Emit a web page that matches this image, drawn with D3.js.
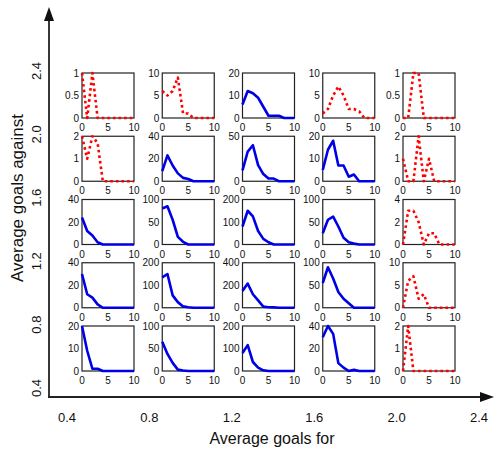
<!DOCTYPE html>
<html>
<head>
<meta charset="utf-8">
<script src="https://cdn.jsdelivr.net/npm/d3@7"></script>
<style>
  body { margin: 0; background: #fff; }
  svg { display: block; }
  text { font-family: "Liberation Sans", Arial, sans-serif; fill: #111; }
</style>
</head>
<body>
<div id="chart"></div>
<script>
// goals scored in a match (x of every small plot)
const goals = d3.range(0, 11);

// outer axis tick labels
const goalsForTicks = [0.4, 0.8, 1.2, 1.6, 2.0, 2.4];
const goalsAgainstTicks = [0.4, 0.8, 1.2, 1.6, 2.0, 2.4];

// one row per average-goals-against band (top row first), one series per goals-for band
const row1 = [
  [1, 0, 1, 0, 0, 0, 0, 0, 0, 0, 0],
  [6, 5, 6, 9, 1, 1, 0, 0, 0, 0, 0],
  [6, 12, 11, 9, 5, 1, 1, 1, 0, 0, 0],
  [1, 2, 5, 7, 5, 2, 2, 1.5, 0, 0, 0],
  [0, 0, 1, 1, 0, 0, 0, 0, 0, 0, 0]
];
const row2 = [
  [2, 1, 2, 1.7, 0, 0, 0, 0, 0, 0, 0],
  [9, 23, 14, 7, 3, 2, 0, 0, 0, 0, 0],
  [12, 33, 40, 18, 8, 3, 3, 0, 0, 0, 0],
  [5, 14, 18, 7, 7, 2, 3, 0, 0, 0, 0],
  [1, 0, 0, 2, 0, 1, 0, 0, 0, 0, 0]
];
const row3 = [
  [24, 12, 8, 2, 0, 0, 0, 0, 0, 0, 0],
  [80, 85, 55, 17, 6, 0, 0, 0, 0, 0, 0],
  [80, 150, 125, 60, 25, 10, 0, 0, 0, 0, 0],
  [25, 55, 62, 40, 15, 5, 2, 0, 0, 0, 0],
  [0, 3, 3, 2, 0, 1, 1, 0, 0, 0, 0]
];
const row4 = [
  [30, 12, 9, 3, 0, 0, 0, 0, 0, 0, 0],
  [135, 150, 55, 25, 6, 2, 0, 0, 0, 0, 0],
  [150, 215, 120, 65, 10, 5, 3, 0, 0, 0, 0],
  [55, 90, 65, 35, 20, 10, 0, 0, 0, 0, 0],
  [0, 6, 7, 2, 3, 0, 0, 0, 0, 0, 0]
];
const row5 = [
  [20, 9, 1, 1, 0, 0, 0, 0, 0, 0, 0],
  [65, 38, 18, 3, 1, 0, 0, 0, 0, 0, 0],
  [80, 115, 40, 15, 3, 0, 0, 0, 0, 0, 0],
  [30, 40, 33, 7, 3, 0, 1, 0, 0, 0, 0],
  [0, 2, 0, 0, 0, 0, 0, 0, 0, 0, 0]
];
const rows = [row1, row2, row3, row4, row5];

// y tick labels of every small plot (last one is the axis max)
const yTicks = [
  [[0, 0.5, 1], [0, 5, 10], [0, 10, 20], [0, 5, 10], [0, 0.5, 1]],
  [[0, 1, 2], [0, 20, 40], [0, 50], [0, 10, 20], [0, 1, 2]],
  [[0, 20, 40], [0, 50, 100], [0, 100, 200], [0, 50, 100], [0, 2, 4]],
  [[0, 20, 40], [0, 100, 200], [0, 200, 400], [0, 50, 100], [0, 5, 10]],
  [[0, 10, 20], [0, 50, 100], [0, 100, 200], [0, 20, 40], [0, 1, 2]]
];
const xTicks = [0, 5, 10];

// few matches -> red dotted, many -> blue solid
const sparse = [
  [1, 1, 0, 1, 1],
  [1, 0, 0, 0, 1],
  [0, 0, 0, 0, 1],
  [0, 0, 0, 0, 1],
  [0, 0, 0, 0, 1]
];

const width = 499;
const height = 451;
const svg = d3.select("#chart").append("svg")
    .attr("width", width)
    .attr("height", height);

// outer axes
const outerX = d3.scaleLinear().domain([0.4, 2.4]).range([67, 479]);
const outerY = d3.scaleLinear().domain([0.4, 2.4]).range([388, 71]);
const originX = 49, originY = 397;

svg.append("line")
    .attr("x1", originX).attr("y1", originY)
    .attr("x2", originX).attr("y2", 20)
    .attr("stroke", "#222").attr("stroke-width", 1.8);
svg.append("line")
    .attr("x1", originX - 1).attr("y1", originY)
    .attr("x2", 482).attr("y2", originY)
    .attr("stroke", "#222").attr("stroke-width", 1.8);
svg.append("path")
    .attr("d", `M${originX},7 L${originX - 5},21 L${originX + 5},21 Z`)
    .attr("fill", "#111");
svg.append("path")
    .attr("d", `M494,${originY} L480,${originY - 5} L480,${originY + 5} Z`)
    .attr("fill", "#111");

svg.selectAll(".gf-tick")
    .data(goalsForTicks)
    .enter().append("text")
    .attr("class", "gf-tick")
    .attr("x", d => outerX(d))
    .attr("y", 422)
    .attr("text-anchor", "middle")
    .style("font-size", "13px")
    .text(d => d.toFixed(1));

svg.selectAll(".ga-tick")
    .data(goalsAgainstTicks)
    .enter().append("text")
    .attr("class", "ga-tick")
    .attr("transform", d => `translate(41,${outerY(d)}) rotate(-90)`)
    .attr("text-anchor", "middle")
    .style("font-size", "13px")
    .text(d => d.toFixed(1));

svg.append("text")
    .attr("x", 272)
    .attr("y", 444)
    .attr("text-anchor", "middle")
    .style("font-size", "16px")
    .text("Average goals for");

svg.append("text")
    .attr("transform", "translate(23,198) rotate(-90)")
    .attr("text-anchor", "middle")
    .style("font-size", "17px")
    .text("Average goals against");

// small multiples
const boxW = 52, boxH = 45;
const colLeft = d3.scaleLinear().domain([0, 4]).range([82, 403]);
const rowTop = d3.scaleLinear().domain([0, 4]).range([73, 326]);
const x = d3.scaleLinear().domain([0, 10]).range([0, boxW]);

rows.forEach((row, r) => {
    row.forEach((series, c) => {
        const ticks = yTicks[r][c];
        const y = d3.scaleLinear().domain([0, ticks[ticks.length - 1]]).range([boxH, 0]);
        const g = svg.append("g")
            .attr("transform", `translate(${colLeft(c)},${rowTop(r)})`);

        g.append("rect")
            .attr("width", boxW).attr("height", boxH)
            .attr("fill", "none")
            .attr("stroke", "#222").attr("stroke-width", 1.2);

        const line = d3.line()
            .x((d, i) => x(goals[i]))
            .y(d => y(d));

        const red = sparse[r][c] === 1;
        g.append("path")
            .datum(series)
            .attr("d", line)
            .attr("fill", "none")
            .attr("stroke", red ? "#ff0000" : "#0000e6")
            .attr("stroke-width", red ? 2.6 : 2.6)
            .attr("stroke-dasharray", red ? "2.6,3" : null)
            .attr("stroke-linejoin", "round");

        g.selectAll(".yt")
            .data(ticks)
            .enter().append("text")
            .attr("class", "yt")
            .attr("x", -3)
            .attr("y", d => y(d))
            .attr("dy", "0.35em")
            .attr("text-anchor", "end")
            .style("font-size", "10px")
            .text(d => d);

        g.selectAll(".xt")
            .data(xTicks)
            .enter().append("text")
            .attr("class", "xt")
            .attr("x", d => x(d))
            .attr("y", boxH + 13)
            .attr("text-anchor", "middle")
            .style("font-size", "10px")
            .text(d => d);
    });
});
</script>
</body>
</html>
